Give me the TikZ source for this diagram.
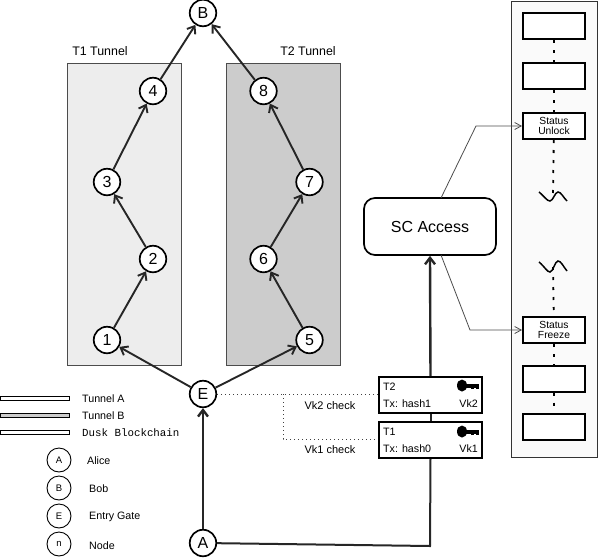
\documentclass[tikz,border=0pt]{standalone}
\usepackage{fontspec}
\setmainfont{Liberation Sans}
\setmonofont{Liberation Mono}
\usetikzlibrary{positioning,arrows.meta}

\tikzset{
 hop/.style={circle,draw,line width=1.7pt,fill=white,inner sep=0pt,minimum size=26.5pt,font=\fontsize{16}{16}\selectfont},
 legendhop/.style={circle,draw,line width=0.9pt,fill=white,inner sep=0pt,minimum size=24pt,font=\fontsize{9.5}{10}\selectfont},
 tunnel/.style={draw=black!70,line width=0.7pt,minimum width=114pt,minimum height=302pt,inner sep=0pt},
 bar/.style={draw,line width=1pt,minimum width=69pt,minimum height=4.5pt,inner sep=0pt},
 block/.style={draw,line width=2pt,fill=white,minimum width=62pt,minimum height=26pt,inner sep=0pt,align=center,font=\fontsize{10.3}{10.5}\selectfont},
 txbox/.style={draw,line width=2pt,fill=white,minimum width=103.5pt,minimum height=36pt,inner sep=0pt},
 label/.style={inner sep=0pt,font=\fontsize{10.7}{12}\selectfont},
 flow/.style={->,>={Straight Barb[length=6.5pt,width=10pt]},line width=1.9pt,black!85},
 thickflow/.style={flow,line width=2.4pt},
 link/.style={->,>={Straight Barb[length=6.5pt,width=7pt]},line width=0.8pt,black!70},
 chainlink/.style={line width=1.8pt,dash pattern=on 3pt off 7pt},
 wave/.style={line width=1.5pt},
 check/.style={line width=0.9pt,black!75,dash pattern=on 1pt off 3pt}
}
\newcommand{\keyicon}[1]{%
 \fill[black] (#1) circle [x radius=5pt,y radius=6pt];
 \fill[black] (#1) ++(0,-2) rectangle ++(17,4);
 \fill[black] (#1) ++(9,0) rectangle ++(3,3.5);
 \fill[black] (#1) ++(13.5,0) rectangle ++(3,3.5);
}

\begin{document}
\begin{tikzpicture}[x=1pt,y=-1pt,on grid]
 \useasboundingbox (0,0) rectangle (598,558);

 % tunnels
 \node[tunnel,fill=black!7] (t_1) at (124,214) {};
 \node[tunnel,fill=black!20] (t_2) at (283,214) {};
 \node[font=\fontsize{12.4}{12}\selectfont] (t_1_name) at (100,51) {T1 Tunnel};
 \node[font=\fontsize{12.4}{12}\selectfont] (t_2_name) at (308,51) {T2 Tunnel};

 % hops
 \node[hop] (n_1) at (107,340) {1};
 \node[hop] (n_2)[above right=81pt and 46pt of n_1] {2};
 \node[hop] (n_3)[above left=77pt and 46pt of n_2] {3};
 \node[hop] (n_4)[above right=91pt and 46pt of n_3] {4};
 \node[hop] (n_5) at (309.5,340) {5};
 \node[hop] (n_6)[above left=81pt and 46pt of n_5] {6};
 \node[hop] (n_7)[above right=77pt and 46pt of n_6] {7};
 \node[hop] (n_8)[above left=91pt and 46pt of n_7] {8};
 \node[hop] (bob) at (203,13) {B};
 \node[hop] (entry) at (203,394) {E};
 \node[hop] (alice) at (203,543) {A};

 % access contract and transactions
 \node[draw,line width=1.7pt,rounded corners=11pt,fill=white,minimum width=132pt,minimum height=57pt,
  font=\fontsize{16}{16}\selectfont] (access) at (430,226.5) {SC Access};
 \node[txbox] (tx_2) at (430.5,395) {};
 \node[txbox] (tx_1) at (430.5,440) {};
 \node[label,anchor=west] (tx_2_name) at (383,387) {T2};
 \node[label,anchor=west] (tx_2_hash) at (383,403.5) {Tx: hash1};
 \node[label,anchor=east] (tx_2_key) at (478,403.5) {Vk2};
 \node[label,anchor=west] (tx_1_name) at (383,432) {T1};
 \node[label,anchor=west] (tx_1_hash) at (383,449) {Tx: hash0};
 \node[label,anchor=east] (tx_1_key) at (478,449) {Vk1};
 \keyicon{462,385.5}
 \keyicon{462,431.5}
 \node[label,font=\fontsize{11}{12}\selectfont] (vk_2) at (330,405.5) {Vk2 check};
 \node[label,font=\fontsize{11}{12}\selectfont] (vk_1) at (330,449.5) {Vk1 check};

 % blockchain
 \node[draw=black!80,line width=0.9pt,fill=black!2,minimum width=86pt,minimum height=456pt,inner sep=0pt] (chain) at (554,229) {};
 \node[block] (b_1) at (554,26) {};
 \node[block] (b_2)[below=50pt of b_1] {};
 \node[block] (b_3)[below=50pt of b_2] {Status\\Unlock};
 \node[block] (b_4) at (554,330) {Status\\Freeze};
 \node[block] (b_5)[below=48.5pt of b_4] {};
 \node[block] (b_6)[below=48pt of b_5] {};
 \coordinate (cut_1) at (553,193);
 \coordinate (cut_2) at (553,267);
 \draw[chainlink] (b_1) -- (b_2);
 \draw[chainlink] (b_2) -- (b_3);
 \draw[chainlink] (b_3) -- (cut_1);
 \draw[chainlink] (cut_2) -- (b_4);
 \draw[chainlink] (b_4) -- (b_5);
 \draw[chainlink] (b_5) -- (b_6);
 \draw[wave] (539,192) .. controls (545,197) and (547,201) .. (550,201) .. controls (553,201) and (555,192) .. (558,192) .. controls (561,192) and (563,197) .. (567,201);
 \draw[wave] (539,262) .. controls (545,267) and (547,272) .. (550,272) .. controls (553,272) and (555,261) .. (558,261) .. controls (561,261) and (563,266) .. (567,271);
 \coordinate (up_1) at (441,198);
 \coordinate (down_1) at (441,255);
 \draw[link] (up_1) -- (476,126) -- (b_3.west);
 \draw[link] (down_1) -- (470,330) -- (b_4.west);

 % legend
 \node[bar] (bar_a) at (34.5,398.5) {};
 \node[bar,fill=black!20] (bar_b) at (34.5,415.5) {};
 \node[bar] (bar_c) at (34.5,432.5) {};
 \node[label,anchor=west] (bar_a_name) at (82,398.5) {Tunnel A};
 \node[label,anchor=west] (bar_b_name) at (82,416) {Tunnel B};
 \node[label,anchor=west,font=\ttfamily\fontsize{10.8}{12}\selectfont] (bar_c_name) at (82,433) {Dusk Blockchain};
 \node[legendhop] (key_a) at (59,460) {A};
 \node[legendhop] (key_b) at (59,488) {B};
 \node[legendhop] (key_e) at (59,516) {E};
 \node[legendhop] (key_n) at (59,544) {n};
 \node[label,anchor=west] (key_a_name) at (87,460.5) {Alice};
 \node[label,anchor=west] (key_b_name) at (89,488.5) {Bob};
 \node[label,anchor=west] (key_e_name) at (89,516.5) {Entry Gate};
 \node[label,anchor=west] (key_n_name) at (89,545.5) {Node};

 % paths
 \path[flow]
 (entry) edge (n_1)
 (entry) edge (n_5)
 (n_1) edge (n_2)
 (n_2) edge (n_3)
 (n_3) edge (n_4)
 (n_4) edge (bob)
 (n_5) edge (n_6)
 (n_6) edge (n_7)
 (n_7) edge (n_8)
 (n_8) edge (bob);
 \path[thickflow]
 (alice) edge (entry)
 (tx_2.north) edge (access.south);
 \draw[line width=2pt,black!85] (alice) -- (430,546) -- (tx_1.south);
 \draw[line width=2pt,black!85] (tx_2.south) -- (tx_1.north);

 % key checks
 \coordinate (check_turn) at (283,394);
 \draw[check] (entry) -- (tx_2.west |- entry);
 \draw[check] (check_turn) -- (283,439) -- (tx_1.west |- 283,439);
\end{tikzpicture}
\end{document}
